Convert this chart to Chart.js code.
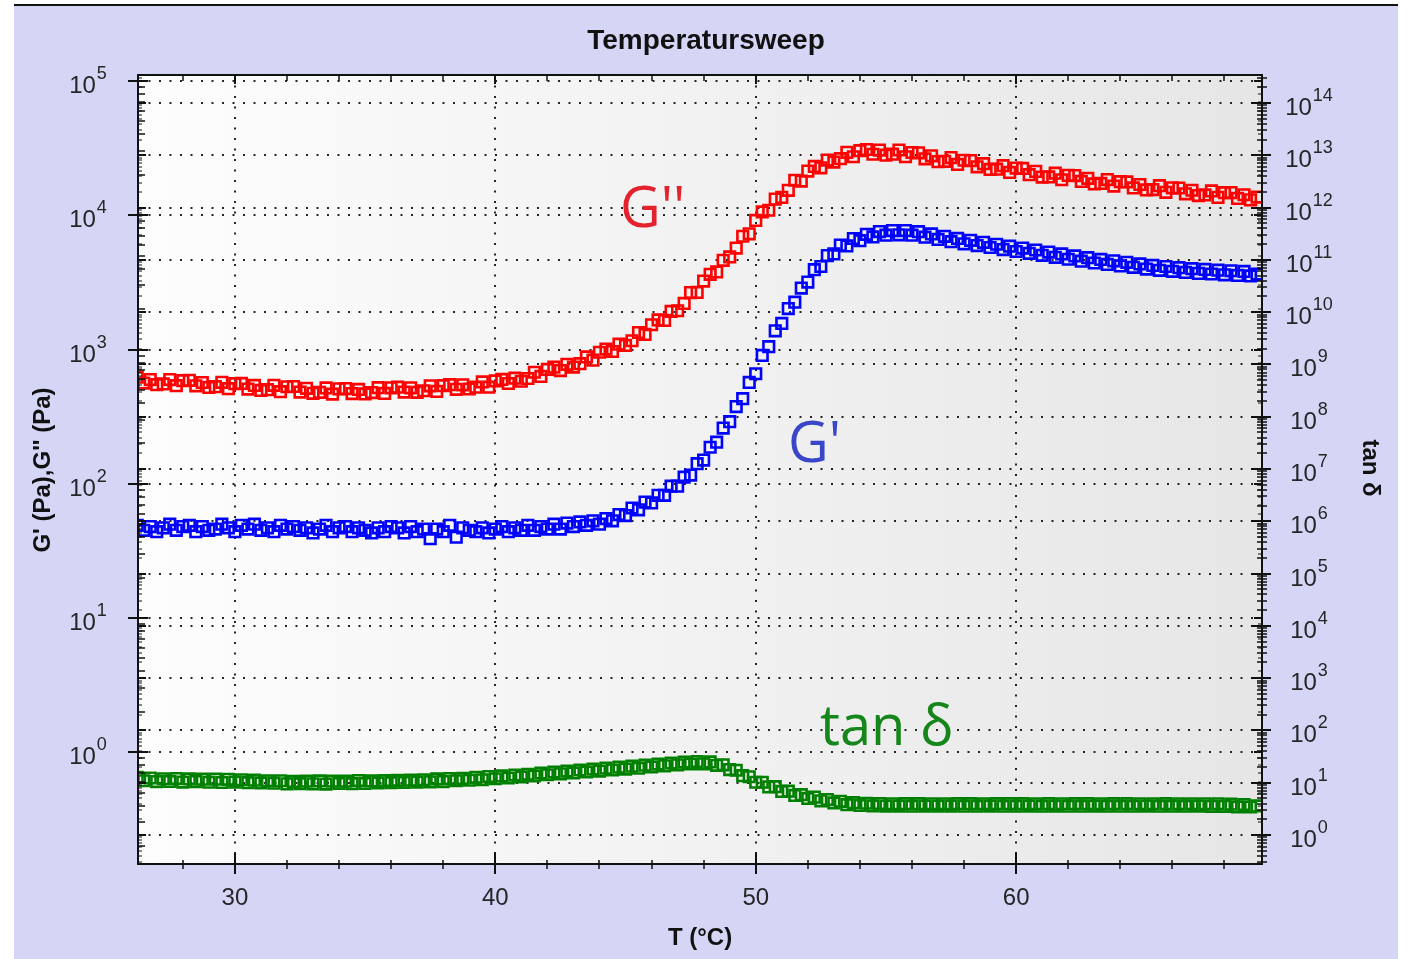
<!DOCTYPE html>
<html>
<head>
<meta charset="utf-8">
<title>Temperatursweep</title>
<script src="https://cdn.jsdelivr.net/npm/chart.js@4.4.0/dist/chart.umd.min.js"></script>
<style>
  html, body { margin: 0; padding: 0; background: #fff; }
  canvas { display: block; }
</style>
</head>
<body>
<canvas id="sweepChart" width="1409" height="959"></canvas>
<script>
// Temperature steps (°C)
const temps = [
  26.25, 26.5, 26.75, 27,
  27.25, 27.5, 27.75, 28,
  28.25, 28.5, 28.75, 29,
  29.25, 29.5, 29.75, 30,
  30.25, 30.5, 30.75, 31,
  31.25, 31.5, 31.75, 32,
  32.25, 32.5, 32.75, 33,
  33.25, 33.5, 33.75, 34,
  34.25, 34.5, 34.75, 35,
  35.25, 35.5, 35.75, 36,
  36.25, 36.5, 36.75, 37,
  37.25, 37.5, 37.75, 38,
  38.25, 38.5, 38.75, 39,
  39.25, 39.5, 39.75, 40,
  40.25, 40.5, 40.75, 41,
  41.25, 41.5, 41.75, 42,
  42.25, 42.5, 42.75, 43,
  43.25, 43.5, 43.75, 44,
  44.25, 44.5, 44.75, 45,
  45.25, 45.5, 45.75, 46,
  46.25, 46.5, 46.75, 47,
  47.25, 47.5, 47.75, 48,
  48.25, 48.5, 48.75, 49,
  49.25, 49.5, 49.75, 50,
  50.25, 50.5, 50.75, 51,
  51.25, 51.5, 51.75, 52,
  52.25, 52.5, 52.75, 53,
  53.25, 53.5, 53.75, 54,
  54.25, 54.5, 54.75, 55,
  55.25, 55.5, 55.75, 56,
  56.25, 56.5, 56.75, 57,
  57.25, 57.5, 57.75, 58,
  58.25, 58.5, 58.75, 59,
  59.25, 59.5, 59.75, 60,
  60.25, 60.5, 60.75, 61,
  61.25, 61.5, 61.75, 62,
  62.25, 62.5, 62.75, 63,
  63.25, 63.5, 63.75, 64,
  64.25, 64.5, 64.75, 65,
  65.25, 65.5, 65.75, 66,
  66.25, 66.5, 66.75, 67,
  67.25, 67.5, 67.75, 68,
  68.25, 68.5, 68.75, 69,
  69.25
];

// loss modulus G'' (Pa)
const lossModulus = [
  622, 562, 597, 547,
  554, 597, 538, 586,
  589, 536, 568, 522,
  529, 570, 511, 556,
  559, 507, 540, 496,
  502, 541, 485, 528,
  530, 482, 514, 472,
  480, 517, 466, 509,
  512, 470, 504, 467,
  478, 520, 471, 518,
  524, 482, 518, 480,
  493, 536, 487, 538,
  547, 505, 546, 508,
  524, 573, 524, 583,
  599, 558, 611, 580,
  608, 677, 630, 710,
  738, 697, 775, 740,
  784, 881, 833, 954,
  1008, 966, 1096, 1072,
  1162, 1339, 1295, 1529,
  1662, 1646, 1921, 1943,
  2202, 2657, 2660, 3234,
  3633, 3782, 4614, 4893,
  5694, 6972, 7268, 9152,
  10584, 10896, 13184, 13585,
  15345, 18218, 17955, 21320,
  23100, 22560, 25750, 24890,
  26384, 29400, 27265, 30264,
  30870, 28464, 30591, 28025,
  28518, 30608, 27265, 29328,
  29190, 26304, 27707, 25080,
  25220, 26880, 23893, 25688,
  25515, 22944, 24205, 21945,
  22019, 23415, 20853, 22464,
  22313, 20064, 21218, 19238,
  19303, 20580, 18383, 19812,
  19740, 17856, 18849, 17100,
  17266, 18428, 16483, 17784,
  17693, 15984, 16944, 15438,
  15520, 16590, 14820, 16016,
  15960, 14448, 15347, 14013,
  14162, 15173, 13585, 14716,
  14753, 13344, 14214, 13015,
  13650
];

// storage modulus G' (Pa)
const storageModulus = [
  49, 45, 48, 44,
  47, 50, 45, 48,
  49, 44, 48, 45,
  46, 50, 47, 44,
  49, 46, 50, 45,
  47, 44, 49, 46,
  48, 45, 47, 43,
  46, 49, 44, 47,
  48, 44, 47, 45,
  43, 47, 44, 48,
  47, 43, 48, 44,
  46, 39, 46, 44,
  49, 40, 47, 45,
  44, 47, 43, 46,
  48, 44, 47, 45,
  49, 45, 48, 46,
  50, 46, 51, 48,
  52, 49, 53, 50,
  55, 53, 59, 58,
  66, 64, 73, 72,
  82, 82, 96, 96,
  112, 116, 141, 150,
  187, 204, 260, 290,
  376, 430, 569, 660,
  903, 1050, 1378, 1565,
  2018, 2250, 2870, 3180,
  3930, 4150, 5010, 5150,
  5990, 5910, 6710, 6470,
  7210, 6890, 7560, 7100,
  7690, 7150, 7690, 7110,
  7540, 6870, 7260, 6610,
  6970, 6360, 6720, 6130,
  6500, 5940, 6290, 5750,
  6080, 5550, 5880, 5370,
  5690, 5200, 5510, 5030,
  5320, 4860, 5150, 4700,
  4980, 4550, 4830, 4410,
  4690, 4300, 4580, 4190,
  4460, 4090, 4340, 3970,
  4230, 3890, 4150, 3820,
  4070, 3750, 4000, 3690,
  3950, 3650, 3900, 3600,
  3860, 3565, 3815, 3530,
  3645
];

// loss factor tan δ
const tanDelta = [
  12.6, 10.9, 12.3, 10.5,
  11.9, 10.6, 12.0, 10.3,
  11.8, 10.5, 11.7, 10.2,
  11.7, 10.1, 11.6, 10.3,
  11.4, 10.0, 11.2, 9.9,
  10.9, 9.8, 10.9, 9.5,
  10.6, 9.6, 10.7, 9.5,
  10.8, 9.4, 10.7, 9.7,
  10.7, 9.6, 11.0, 9.7,
  10.8, 9.9, 11.0, 10.0,
  11.1, 10.1, 11.2, 10.3,
  11.4, 10.4, 11.8, 10.5,
  12.0, 10.9, 12.1, 11.2,
  12.7, 11.4, 13.1, 11.9,
  13.5, 12.3, 14.0, 12.9,
  14.5, 13.5, 15.3, 14.2,
  16.0, 14.8, 16.7, 15.4,
  17.5, 16.1, 18.2, 16.7,
  19.0, 17.5, 19.8, 18.2,
  20.7, 19.0, 21.6, 20.0,
  22.7, 21.0, 23.8, 22.0,
  24.8, 22.8, 25.4, 23.0,
  25.0, 21.5, 22.0, 17.8,
  17.3, 13.6, 13.0, 10.2,
  10.2, 8.3, 8.4, 6.8,
  6.9, 5.7, 5.9, 5.0,
  5.3, 4.5, 4.75, 4.1,
  4.4, 3.8, 4.15, 3.67,
  4.05, 3.6, 3.99, 3.58,
  3.96, 3.57, 3.97, 3.55,
  3.97, 3.57, 3.95, 3.57,
  3.95, 3.57, 3.98, 3.56,
  3.97, 3.55, 3.95, 3.58,
  3.97, 3.55, 3.97, 3.56,
  3.98, 3.57, 3.95, 3.56,
  3.97, 3.58, 3.96, 3.55,
  3.97, 3.56, 3.98, 3.57,
  3.95, 3.56, 3.97, 3.56,
  3.98, 3.56, 3.95, 3.57,
  3.96, 3.55, 3.97, 3.56,
  3.94, 3.56, 3.95, 3.57,
  3.95, 3.54, 3.96, 3.54,
  3.88, 3.44, 3.82, 3.43,
  3.59
];

// axis ticks
const xTicks = [30, 40, 50, 60];
const xMinorStep = 2;
const leftExponents = [0, 1, 2, 3, 4, 5];
const rightExponents = [0, 1, 2, 3, 4, 5, 6, 7, 8, 9, 10, 11, 12, 13, 14];

// axis ranges
const xRange = [26.28, 69.44];
const leftRange = [0.1472, 110800];
const rightRange = [0.2788, 3.43e14];

const DOTS = [2, 8.5];
const LABEL_FONT = '24px "Liberation Sans", Arial, sans-serif';
const SUP_FONT = '18px "Liberation Sans", Arial, sans-serif';
const TITLE_FONT = 'bold 24px "Liberation Sans", Arial, sans-serif';

function minorValues(scale) {
  const out = [];
  const lo = Math.floor(Math.log10(scale.min));
  const hi = Math.ceil(Math.log10(scale.max));
  for (let e = lo; e <= hi; e++) {
    for (let m = 2; m <= 9; m++) {
      const v = m * Math.pow(10, e);
      if (v > scale.min && v < scale.max) out.push(v);
    }
  }
  return out;
}

function hLine(ctx, x0, x1, y, w) {
  ctx.lineWidth = w;
  ctx.beginPath();
  ctx.moveTo(x0, Math.round(y));
  ctx.lineTo(x1, Math.round(y));
  ctx.stroke();
}

function vLine(ctx, x, y0, y1, w) {
  ctx.lineWidth = w;
  ctx.beginPath();
  ctx.moveTo(Math.round(x), y0);
  ctx.lineTo(Math.round(x), y1);
  ctx.stroke();
}

// "10" with a raised exponent, centred on cx
function powerLabel(ctx, exp, cx, y) {
  ctx.font = LABEL_FONT;
  const wb = ctx.measureText('10').width;
  ctx.font = SUP_FONT;
  const ws = ctx.measureText(String(exp)).width;
  const x0 = cx - (wb + ws + 1) / 2;
  ctx.textAlign = 'left';
  ctx.textBaseline = 'alphabetic';
  ctx.font = LABEL_FONT;
  ctx.fillText('10', x0, y + 12);
  ctx.font = SUP_FONT;
  ctx.fillText(String(exp), x0 + wb + 1, y - 2);
}

const framePlugin = {
  id: 'sweepFrame',
  beforeDraw(chart) {
    const { ctx, chartArea: a, width, height } = chart;
    ctx.save();
    ctx.fillStyle = '#ffffff';
    ctx.fillRect(0, 0, width, height);
    ctx.fillStyle = '#d5d5f6';
    ctx.fillRect(14, 6, 1384, height - 6);
    ctx.fillStyle = '#111111';
    ctx.fillRect(14, 4, 1384, 2);
    const grad = ctx.createLinearGradient(a.left, 0, a.right, 0);
    grad.addColorStop(0, '#fdfdfd');
    grad.addColorStop(1, '#e6e6e6');
    ctx.fillStyle = grad;
    ctx.fillRect(a.left, a.top, a.right - a.left, a.bottom - a.top);
    ctx.restore();
  },
  afterDraw(chart) {
    const { ctx, chartArea: a } = chart;
    const xs = chart.scales.x, yl = chart.scales.y, yr = chart.scales.y2;
    ctx.save();
    ctx.strokeStyle = '#111111';

    // frame
    ctx.lineWidth = 2;
    ctx.strokeRect(a.left, a.top, a.right - a.left, a.bottom - a.top);

    // left axis: own ticks plus the right-axis ticks mirrored inside
    leftExponents.forEach(e => hLine(ctx, a.left - 10, a.left + 10, yl.getPixelForValue(Math.pow(10, e)), 2));
    minorValues(yl).forEach(v => hLine(ctx, a.left, a.left + 7, yl.getPixelForValue(v), 1.5));
    rightExponents.forEach(e => hLine(ctx, a.left, a.left + 8, yr.getPixelForValue(Math.pow(10, e)), 2));
    minorValues(yr).forEach(v => hLine(ctx, a.left, a.left + 4, yr.getPixelForValue(v), 1));

    // right axis
    rightExponents.forEach(e => hLine(ctx, a.right - 11, a.right + 9, yr.getPixelForValue(Math.pow(10, e)), 2));
    minorValues(yr).forEach(v => hLine(ctx, a.right - 5, a.right + 5, yr.getPixelForValue(v), 1.5));
    leftExponents.forEach(e => hLine(ctx, a.right - 8, a.right, yl.getPixelForValue(Math.pow(10, e)), 2));
    minorValues(yl).forEach(v => hLine(ctx, a.right - 4, a.right, yl.getPixelForValue(v), 1));

    // bottom and top axes
    for (let t = Math.ceil(xs.min / xMinorStep) * xMinorStep; t <= xs.max; t += xMinorStep) {
      const px = xs.getPixelForValue(t);
      const major = xTicks.includes(t);
      vLine(ctx, px, a.bottom - (major ? 11 : 4), a.bottom + (major ? 10 : 5), major ? 2 : 1.5);
      vLine(ctx, px, a.top, a.top + (major ? 9 : 6), major ? 2 : 1.5);
    }

    // tick labels
    ctx.fillStyle = '#262626';
    leftExponents.forEach(e => powerLabel(ctx, e, 88, yl.getPixelForValue(Math.pow(10, e))));
    rightExponents.forEach(e => powerLabel(ctx, e, 1309, yr.getPixelForValue(Math.pow(10, e))));
    ctx.font = LABEL_FONT;
    ctx.textAlign = 'center';
    ctx.textBaseline = 'alphabetic';
    xTicks.forEach(t => ctx.fillText(String(t), xs.getPixelForValue(t), 905));

    // titles
    ctx.fillStyle = '#111111';
    ctx.font = 'bold 28px "Liberation Sans", Arial, sans-serif';
    ctx.fillText('Temperatursweep', 706, 49);
    ctx.font = TITLE_FONT;
    ctx.fillText('T (°C)', 700, 945);
    ctx.save();
    ctx.translate(50, 470);
    ctx.rotate(-Math.PI / 2);
    ctx.fillText("G' (Pa),G'' (Pa)", 0, 0);
    ctx.restore();
    ctx.save();
    ctx.translate(1363, 468);
    ctx.rotate(Math.PI / 2);
    ctx.fillText('tan δ', 0, 0);
    ctx.restore();

    // curve names
    ctx.textAlign = 'left';
    ctx.font = '56px "Open Sans", "Noto Sans", sans-serif';
    ctx.fillStyle = '#e4222e';
    ctx.fillText("G''", 620, 227);
    ctx.fillStyle = '#3a46c8';
    ctx.fillText("G'", 788, 462);
    ctx.fillStyle = '#15861a';
    ctx.fillText('tan δ', 820, 745);

    ctx.restore();
  }
};

const toPoints = vals => temps.map((t, i) => ({ x: t, y: vals[i] }));

function series(label, vals, color, axis) {
  return {
    label: label,
    data: toPoints(vals),
    yAxisID: axis,
    showLine: false,
    borderColor: color,
    backgroundColor: 'rgba(0,0,0,0)',
    pointStyle: 'rect',
    pointRadius: 7.5,
    pointHoverRadius: 7.5,
    pointBorderWidth: 2.6
  };
}

const dottedGrid = { color: 'rgba(0,0,0,0.85)', lineWidth: 2, drawTicks: false };

new Chart(document.getElementById('sweepChart'), {
  type: 'line',
  data: {
    datasets: [
      series("G''", lossModulus, '#ff0000', 'y'),
      series("G'", storageModulus, '#0000ff', 'y'),
      series('tan δ', tanDelta, '#008000', 'y2')
    ]
  },
  options: {
    responsive: false,
    animation: false,
    devicePixelRatio: 1,
    events: [],
    layout: { padding: { top: 75, left: 0, right: 0, bottom: 0 } },
    plugins: { legend: { display: false }, tooltip: { enabled: false }, title: { display: false } },
    scales: {
      x: {
        type: 'linear',
        position: 'bottom',
        min: xRange[0],
        max: xRange[1],
        ticks: { display: false },
        grid: dottedGrid,
        border: { display: false, dash: DOTS },
        afterBuildTicks: s => { s.ticks = xTicks.map(v => ({ value: v })); },
        afterFit: s => { s.height = 95; }
      },
      y: {
        type: 'logarithmic',
        position: 'left',
        min: leftRange[0],
        max: leftRange[1],
        ticks: { display: false },
        grid: dottedGrid,
        border: { display: false, dash: DOTS },
        afterBuildTicks: s => { s.ticks = leftExponents.map(e => ({ value: Math.pow(10, e) })); },
        afterFit: s => { s.width = 138; }
      },
      y2: {
        type: 'logarithmic',
        position: 'right',
        min: rightRange[0],
        max: rightRange[1],
        ticks: { display: false },
        grid: dottedGrid,
        border: { display: false, dash: DOTS },
        afterBuildTicks: s => { s.ticks = rightExponents.map(e => ({ value: Math.pow(10, e) })); },
        afterFit: s => { s.width = 147; }
      }
    }
  },
  plugins: [framePlugin]
});
</script>
</body>
</html>
